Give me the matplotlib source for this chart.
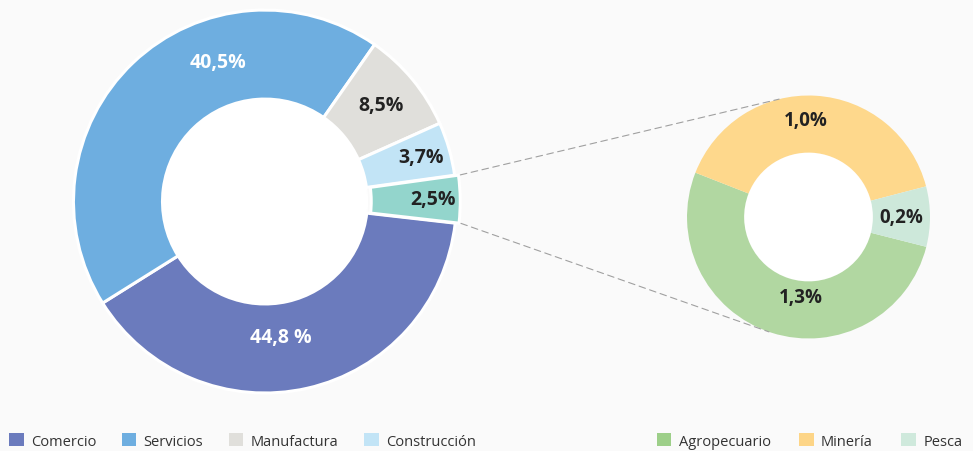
import numpy as np
import matplotlib.pyplot as plt
from matplotlib.patches import Patch, Circle, ConnectionPatch

plt.rcParams['font.family'] = ['Open Sans', 'DejaVu Sans']

# main ring (slice sizes, printed labels as shown)
sectors = ['Comercio', 'Servicios', 'Manufactura', 'Construcción', 'Otros']
shares = [39.3, 43.6, 8.6, 4.5, 4.0]
share_labels = ['44,8 %', '40,5%', '8,5%', '3,7%', '2,5%']
main_colors = ['#6b7bbd', '#6eaee0', '#e0dfdb', '#c2e4f6', '#93d5cc']
main_text = ['white', 'white', '#222222', '#222222', '#222222']

# breakdown of "Otros"
sub_sectors = ['Agropecuario', 'Minería', 'Pesca']
sub_shares = [1.3, 1.0, 0.2]
sub_labels = ['1,3%', '1,0%', '0,2%']
sub_colors = ['#b1d7a1', '#fed88c', '#cde8da']
sub_legend_colors = ['#9dcf89', '#fdd587', '#cfe9dc']

bg = '#fafafa'
fig = plt.figure(figsize=(9.73, 4.52), dpi=100, facecolor=bg)

ax1 = fig.add_axes([0.0755, 0.1283, 0.3936, 0.8473])
ax2 = fig.add_axes([0.7061, 0.2489, 0.2497, 0.5376])

wedges1, _ = ax1.pie(shares, colors=main_colors, startangle=-6.5, counterclock=False,
                     explode=[0, 0, 0, 0, 0.02],
                     wedgeprops=dict(width=0.465, edgecolor='white', linewidth=2.2))
ax1.add_patch(Circle((0, 0), 0.535, color='white', zorder=0))

wedges2, _ = ax2.pie(sub_shares, colors=sub_colors, startangle=-14.2, counterclock=False,
                     wedgeprops=dict(width=0.47, linewidth=0))
ax2.add_patch(Circle((0, 0), 0.53, color='white', zorder=0))

for ax in (ax1, ax2):
    ax.set_xlim(-1.0, 1.0)
    ax.set_ylim(-1.0, 1.0)
    ax.set_aspect('equal')
    ax.axis('off')

# label placement: middle of wedge, with a few small nudges (deg, radius)
nudge1 = {'Servicios': (-25, 0.77), 'Comercio': (-6, 0.71), 'Manufactura': (0, 0.79),
          'Construcción': (0, 0.85), 'Otros': (0, 0.86)}
for w, name, txt, col in zip(wedges1, sectors, share_labels, main_text):
    da, r = nudge1[name]
    a = np.deg2rad((w.theta1 + w.theta2) / 2 + da)
    cx, cy = w.center
    ax1.text(cx + r * np.cos(a), cy + r * np.sin(a), txt, ha='center', va='center',
             fontsize=14, fontweight='bold', color=col)

nudge2 = {'Agropecuario': (12, 0.66), 'Minería': (5, 0.80), 'Pesca': (0, 0.76)}
for w, name, txt in zip(wedges2, sub_sectors, sub_labels):
    da, r = nudge2[name]
    a = np.deg2rad((w.theta1 + w.theta2) / 2 + da)
    ax2.text(r * np.cos(a), r * np.sin(a), txt, ha='center', va='center',
             fontsize=13.5, fontweight='bold', color='#222222')

# dashed connectors from "Otros" to the breakdown ring
otros = wedges1[-1]
cx, cy = otros.center
for th, end in ((otros.theta2, 104), (otros.theta1, 251)):
    p1 = (cx + 1.01 * np.cos(np.deg2rad(th)), cy + 1.01 * np.sin(np.deg2rad(th)))
    p2 = (np.cos(np.deg2rad(end)), np.sin(np.deg2rad(end)))
    con = ConnectionPatch(xyA=p1, coordsA=ax1.transData, xyB=p2, coordsB=ax2.transData,
                          color='#a0a0a0', linewidth=0.8, linestyle=(0, (6, 4)))
    fig.add_artist(con)

# legends
h1 = [Patch(facecolor=c, edgecolor='none') for c in main_colors[:4]]
fig.legend(h1, sectors[:4], loc='center left', bbox_to_anchor=(0.0093, 0.022), ncol=4,
           frameon=False, fontsize=10.5, handlelength=1.0, handleheight=1.0,
           handletextpad=0.5, columnspacing=1.75, borderpad=0, borderaxespad=0,
           labelcolor='#333333')

h2 = [Patch(facecolor=c, edgecolor='none') for c in sub_legend_colors]
fig.legend(h2, sub_sectors, loc='center left', bbox_to_anchor=(0.675, 0.022), ncol=3,
           frameon=False, fontsize=10.5, handlelength=1.0, handleheight=1.0,
           handletextpad=0.5, columnspacing=1.95, borderpad=0, borderaxespad=0,
           labelcolor='#333333')

fig.savefig('out.png', dpi=100, facecolor=bg)
